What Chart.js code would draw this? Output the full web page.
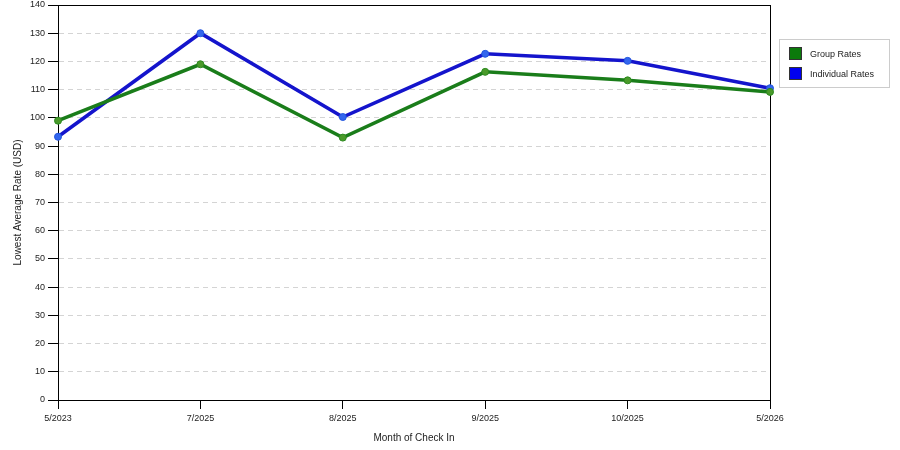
<!DOCTYPE html>
<html><head><meta charset="utf-8">
<script src="https://cdn.jsdelivr.net/npm/chart.js@4"></script>
<style>html,body{margin:0;padding:0;background:#fff}#wrap{width:900px;height:450px;position:relative}</style>
</head><body><div id="wrap"><canvas id="c" width="900" height="450"></canvas></div>
<script>
const months = ['5/2023', '7/2025', '8/2025', '9/2025', '10/2025', '5/2026'];
const groupRates = [99, 119, 93, 116.3, 113.3, 109.2];
const individualRates = [93.3, 130, 100.3, 122.7, 120.2, 110.5];
const seriesNames = ['Group Rates', 'Individual Rates'];
const yMin = 0, yMax = 140, yStep = 10;
const xTitle = 'Month of Check In';
const yTitle = 'Lowest Average Rate (USD)';

const FONT = {family: '"Liberation Sans", Arial, sans-serif', size: 9};
const TFONT = {family: '"Liberation Sans", Arial, sans-serif', size: 10};
const TXT = '#222';

const framePlugin = {
  id: 'frame',
  beforeDatasetsDraw(chart) {
    const a = chart.chartArea, ctx = chart.ctx;
    ctx.save();
    ctx.strokeStyle = '#000';
    ctx.lineWidth = 1;
    ctx.strokeRect(Math.round(a.left) + 0.5, Math.round(a.top) + 0.5,
      Math.round(a.right - a.left), Math.round(a.bottom - a.top));
    ctx.restore();
  }
};

const legendPlugin = {
  id: 'boxLegend',
  afterDraw(chart) {
    const ctx = chart.ctx;
    const x0 = 779, y0 = 39, w = 110, h = 48;
    ctx.save();
    ctx.fillStyle = '#fff';
    ctx.fillRect(x0, y0, w, h);
    ctx.strokeStyle = '#cccccc';
    ctx.lineWidth = 1;
    ctx.strokeRect(x0 + 0.5, y0 + 0.5, w, h);
    chart.data.datasets.forEach((ds, i) => {
      const sy = y0 + 8 + i * 20;
      ctx.fillStyle = ds.legendColor;
      ctx.fillRect(x0 + 10, sy, 13, 13);
      ctx.strokeStyle = '#333';
      ctx.strokeRect(x0 + 10.5, sy + 0.5, 12, 12);
      ctx.fillStyle = TXT;
      ctx.font = FONT.size + 'px ' + FONT.family;
      ctx.textBaseline = 'middle';
      ctx.textAlign = 'left';
      ctx.fillText(ds.label, x0 + 31, sy + 7.5);
    });
    ctx.restore();
  }
};

new Chart(document.getElementById('c'), {
  type: 'line',
  data: {
    labels: months,
    datasets: [
      {
        label: seriesNames[0], data: groupRates,
        borderColor: '#1a7d1a', legendColor: '#0b7a0b', borderWidth: 3.5,
        pointRadius: 3.5, pointBackgroundColor: '#4a9a2a', pointBorderColor: '#2c8a20', pointBorderWidth: 1,
        tension: 0, clip: false
      },
      {
        label: seriesNames[1], data: individualRates,
        borderColor: '#1414cc', legendColor: '#0000f0', borderWidth: 3.5,
        pointRadius: 3.5, pointBackgroundColor: '#3366ee', pointBorderColor: '#2255dd', pointBorderWidth: 1,
        tension: 0, clip: false
      }
    ]
  },
  options: {
    responsive: false,
    devicePixelRatio: 1,
    animation: false,
    layout: {padding: {left: 0, right: 130, top: 5, bottom: 0}},
    plugins: {legend: {display: false}, tooltip: {enabled: false}},
    scales: {
      x: {
        type: 'category', offset: false,
        grid: {drawOnChartArea: false, drawTicks: true, tickLength: 9, color: '#000', tickColor: '#000'},
        border: {display: true, color: '#000', width: 1},
        ticks: {padding: 4, color: TXT, font: FONT, maxRotation: 0, autoSkip: false},
        title: {display: true, text: xTitle, font: TFONT, color: TXT, padding: {top: 0, bottom: 6}},
        afterFit(s) { s.height = 50; s.paddingLeft = 0; s.paddingRight = 0; }
      },
      y: {
        min: yMin, max: yMax,
        ticks: {stepSize: yStep, padding: 3, color: TXT, font: FONT},
        grid: {
          color: (c) => (c.tick && (c.tick.value === yMin || c.tick.value === yMax)) ? 'rgba(0,0,0,0)' : '#d4d4d4',
          tickColor: '#000', tickLength: 10, lineWidth: 1
        },
        border: {display: true, color: '#000', width: 1, dash: [5, 4]},
        title: {display: true, text: yTitle, font: TFONT, color: TXT, padding: {top: 12, bottom: 0}},
        afterFit(s) { s.width = 58; s.paddingTop = 0; s.paddingBottom = 0; }
      }
    }
  },
  plugins: [framePlugin, legendPlugin]
});
</script></body></html>
